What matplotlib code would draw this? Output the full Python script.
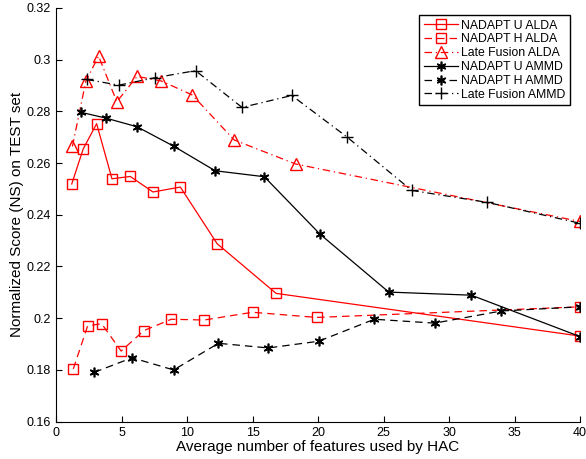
import matplotlib
matplotlib.use('Agg')
import matplotlib.pyplot as plt

plt.rcParams['font.family'] = ['Liberation Sans', 'DejaVu Sans']

# NADAPT U ALDA
x_u_alda = [1.2, 2.08, 3.1, 4.27, 5.67, 7.4, 9.49, 12.3, 16.8, 40]
y_u_alda = [0.2519, 0.2655, 0.2752, 0.2539, 0.2548, 0.2488, 0.2507, 0.2288, 0.2096, 0.1931]
# NADAPT H ALDA
x_h_alda = [1.32, 2.41, 3.48, 4.97, 6.7, 8.8, 11.3, 15.0, 19.9, 40]
y_h_alda = [0.1804, 0.197, 0.1979, 0.1873, 0.1952, 0.1996, 0.1993, 0.2023, 0.2003, 0.2044]
# Late Fusion ALDA
x_lf_alda = [1.25, 2.28, 3.25, 4.64, 6.19, 8.04, 10.4, 13.6, 18.3, 40]
y_lf_alda = [0.2664, 0.2917, 0.3013, 0.2837, 0.2935, 0.2917, 0.2863, 0.2689, 0.2596, 0.2374]
# NADAPT U AMMD
x_u_ammd = [1.9, 3.78, 6.19, 8.98, 12.15, 15.9, 20.15, 25.4, 31.7, 40]
y_u_ammd = [0.2796, 0.2774, 0.274, 0.2665, 0.257, 0.2547, 0.2325, 0.2101, 0.2089, 0.1929]
# NADAPT H AMMD
x_h_ammd = [2.92, 5.81, 8.98, 12.4, 16.2, 20.05, 24.3, 28.9, 34.0, 40]
y_h_ammd = [0.1791, 0.1847, 0.18, 0.1903, 0.1885, 0.1911, 0.1996, 0.1981, 0.2028, 0.2044]
# Late Fusion AMMD
x_lf_ammd = [2.33, 4.8, 7.59, 10.65, 14.2, 18.0, 22.2, 27.15, 32.9, 40]
y_lf_ammd = [0.2923, 0.2901, 0.293, 0.2957, 0.2815, 0.2861, 0.2701, 0.2494, 0.2448, 0.2367]

fig = plt.figure(figsize=(5.86, 4.59), dpi=100)
ax = fig.add_axes([0.0956, 0.0813, 0.8942, 0.9017])

star = (6, 2, 0)  # matlab style asterisk
ax.plot(x_u_alda, y_u_alda, '-', color='red', lw=0.9, marker='s', ms=6.5, mfc='none', label='NADAPT U ALDA')
ax.plot(x_h_alda, y_h_alda, '--', color='red', lw=0.9, marker='s', ms=6.5, mfc='none', dashes=(6, 4), label='NADAPT H ALDA')
ax.plot(x_lf_alda, y_lf_alda, '-.', color='red', lw=0.9, marker='^', ms=8, mfc='none', dashes=(6, 3, 1, 3), label='Late Fusion ALDA')
ax.plot(x_u_ammd, y_u_ammd, '-', color='black', lw=0.9, marker=star, ms=7, mew=1.2, label='NADAPT U AMMD')
ax.plot(x_h_ammd, y_h_ammd, '--', color='black', lw=0.9, marker=star, ms=7, mew=1.2, dashes=(6, 4), label='NADAPT H AMMD')
ax.plot(x_lf_ammd, y_lf_ammd, '-.', color='black', lw=0.9, marker='+', ms=8, dashes=(6, 3, 1, 3), label='Late Fusion AMMD')

ax.set_xlim(0, 40)
ax.set_ylim(0.16, 0.32)
ax.set_xticks(range(0, 41, 5))
ax.set_yticks([0.16, 0.18, 0.2, 0.22, 0.24, 0.26, 0.28, 0.3, 0.32])
ax.set_yticklabels(['0.16', '0.18', '0.2', '0.22', '0.24', '0.26', '0.28', '0.3', '0.32'])
ax.tick_params(direction='in', labelsize=9, length=4)
ax.spines['top'].set_visible(False)
ax.spines['right'].set_visible(False)

ax.set_xlabel('Average number of features used by HAC', fontsize=11, labelpad=1)
ax.set_ylabel('Normalized Score (NS) on TEST set', fontsize=11, labelpad=2)

leg = ax.legend(loc='upper right', bbox_to_anchor=(0.981, 0.982), borderaxespad=0, fontsize=8.8,
                fancybox=False, edgecolor='black', framealpha=1, handlelength=2.8, borderpad=0.35,
                labelspacing=0.15, handletextpad=0.3)
leg.get_frame().set_linewidth(1)

fig.savefig('out.png', dpi=100)
